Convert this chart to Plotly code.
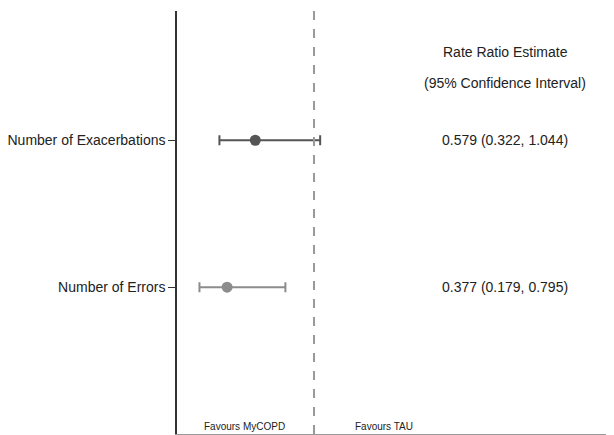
import plotly.graph_objects as go

outcomes = ["Number of Exacerbations", "Number of Errors"]
estimates = [0.579, 0.377]
ci_low = [0.322, 0.179]
ci_high = [1.044, 0.795]
labels_text = ["0.579 (0.322, 1.044)", "0.377 (0.179, 0.795)"]
colors = ["#555555", "#8c8c8c"]
y_pos = [2, 1]

FONT = "Liberation Sans, Arial, sans-serif"

fig = go.Figure()
for i in range(len(outcomes)):
    fig.add_trace(go.Scatter(
        x=[estimates[i]], y=[y_pos[i]], mode="markers",
        marker=dict(color=colors[i], size=11),
        error_x=dict(type="data", symmetric=False,
                     array=[ci_high[i] - estimates[i]],
                     arrayminus=[estimates[i] - ci_low[i]],
                     color=colors[i], thickness=2, width=5),
        showlegend=False, hoverinfo="skip"))

# reference line at 1
fig.add_shape(type="line", x0=1, x1=1, y0=0, y1=1, xref="x", yref="paper",
              line=dict(color="#999999", width=2, dash="dash"))

# right-hand estimate text
for i in range(len(outcomes)):
    fig.add_annotation(x=2.37, y=y_pos[i], xref="x", yref="y", text=labels_text[i],
                       showarrow=False, font=dict(size=14, color="#222222", family=FONT))

fig.add_annotation(x=2.37, y=2.60, xref="x", yref="y", text="Rate Ratio Estimate",
                   showarrow=False, font=dict(size=14, color="#222222", family=FONT))
fig.add_annotation(x=2.37, y=2.39, xref="x", yref="y", text="(95% Confidence Interval)",
                   showarrow=False, font=dict(size=14, color="#222222", family=FONT))

fig.add_annotation(x=0.5, y=0.05, xref="x", yref="y", text="Favours MyCOPD",
                   showarrow=False, font=dict(size=10, color="#222222", family=FONT))
fig.add_annotation(x=1.5, y=0.05, xref="x", yref="y", text="Favours TAU",
                   showarrow=False, font=dict(size=10, color="#222222", family=FONT))

fig.update_layout(
    width=614, height=435,
    margin=dict(l=169, r=8, t=3, b=9),
    plot_bgcolor="white", paper_bgcolor="white",
    font=dict(family=FONT, size=14, color="#222222"),
    xaxis=dict(range=[0.018, 3.15], showgrid=False, zeroline=False,
               showticklabels=False, ticks="", showline=True, automargin=False,
               linecolor="#999999", linewidth=1),
    yaxis=dict(range=[0, 2.88], showgrid=False, zeroline=False, automargin=False,
               tickvals=y_pos, ticktext=outcomes, ticks="outside",
               ticklen=7, tickcolor="#333333", tickwidth=1,
               showline=True, linecolor="#333333", linewidth=1.5,
               tickfont=dict(size=14, color="#222222", family=FONT)),
)

fig.write_html("out.html")
